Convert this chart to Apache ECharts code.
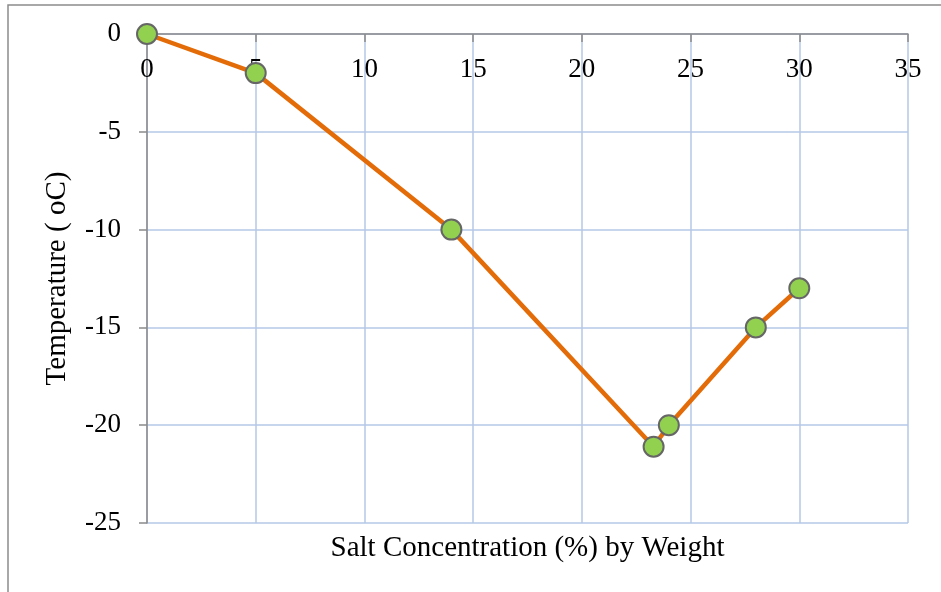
<!DOCTYPE html>
<html>
<head>
<meta charset="utf-8">
<script src="https://cdn.jsdelivr.net/npm/echarts@6/dist/echarts.min.js"></script>
<style>
  html, body { margin: 0; padding: 0; background: #fff; }
  #chart { width: 941px; height: 592px; }
</style>
</head>
<body>
<div id="chart"></div>
<script>
// salt concentration (% by weight) vs freezing temperature
const saltPct = [0, 5, 14, 23.3, 24, 28, 30];
const tempC = [0, -2, -10, -21.1, -20, -15, -13];

const xTitle = 'Salt Concentration (%) by Weight';
const yTitle = 'Temperature ( oC)';

const font = 'Liberation Serif, Times New Roman, serif';
const gridBlue = '#b4c7e7';
const axisGray = '#8a8a8a';

const chart = echarts.init(document.getElementById('chart'));

const option = {
  backgroundColor: '#fff',
  animation: false,
  graphic: [
    {
      type: 'rect',
      shape: { x: 8, y: 5, width: 960, height: 620 },
      style: { fill: 'none', stroke: '#8c8c8c', lineWidth: 1.5 },
      silent: true
    }
  ],
  grid: { left: 147, right: 33, top: 34, bottom: 69 },
  xAxis: [
    {
      type: 'value',
      position: 'top',
      min: 0,
      max: 35,
      interval: 5,
      axisLine: { show: true, onZero: false, lineStyle: { color: axisGray, width: 1.5 } },
      axisTick: { show: true, inside: true, length: 8, lineStyle: { color: axisGray, width: 1.5 } },
      axisLabel: { inside: true, margin: 22, color: '#000', fontFamily: font, fontSize: 27 },
      splitLine: { show: true, lineStyle: { color: gridBlue, width: 1.5 } }
    },
    {
      type: 'value',
      position: 'bottom',
      min: 0,
      max: 35,
      name: xTitle,
      nameLocation: 'middle',
      nameGap: 11,
      nameTextStyle: { color: '#000', fontFamily: font, fontSize: 29, verticalAlign: 'top' },
      axisLine: { show: false },
      axisTick: { show: false },
      axisLabel: { show: false },
      splitLine: { show: false }
    }
  ],
  yAxis: {
    type: 'value',
    min: -25,
    max: 0,
    interval: 5,
    name: yTitle,
    nameLocation: 'middle',
    nameGap: 75,
    nameTextStyle: { color: '#000', fontFamily: font, fontSize: 29 },
    axisLine: { show: true, onZero: false, lineStyle: { color: axisGray, width: 1.5 } },
    axisTick: { show: true, length: 8, lineStyle: { color: axisGray, width: 1.5 } },
    axisLabel: { margin: 26, color: '#000', fontFamily: font, fontSize: 27 },
    splitLine: { show: true, lineStyle: { color: gridBlue, width: 1.5 } }
  },
  series: [
    {
      type: 'line',
      data: saltPct.map((x, i) => [x, tempC[i]]),
      symbol: 'circle',
      symbolSize: 20,
      lineStyle: { color: '#e36c09', width: 4.5 },
      itemStyle: { color: '#92d050', borderColor: '#666666', borderWidth: 2 }
    }
  ]
};

chart.setOption(option);
</script>
</body>
</html>
